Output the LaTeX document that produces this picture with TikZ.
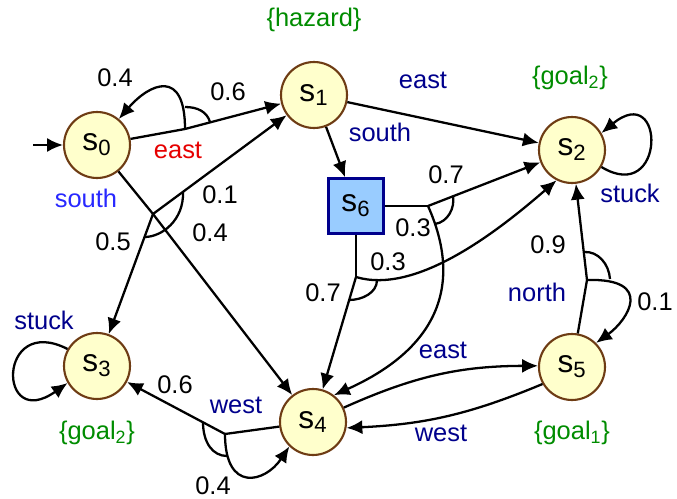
\documentclass[tikz,border=0pt]{standalone}
\usepackage{fontspec}
\setmainfont{Liberation Sans}
\usetikzlibrary{arrows.meta}

\definecolor{stateFill}{RGB}{255,255,204}
\definecolor{stateBorder}{RGB}{110,60,20}
\definecolor{hazardFill}{RGB}{153,204,255}
\definecolor{hazardBorder}{RGB}{0,0,140}
\definecolor{actColor}{RGB}{0,0,140}
\definecolor{eastColor}{RGB}{230,0,0}
\definecolor{southColor}{RGB}{40,40,255}
\definecolor{propColor}{RGB}{0,140,0}

\begin{document}
\begin{tikzpicture}
[x=0.02cm,y=0.02cm,
  stateDecorate/.style={shape=circle,minimum size=1.32cm,inner sep=0pt,draw=stateBorder,fill=stateFill,line width=1.2pt,font=\fontsize{18}{20}\selectfont},%
  hazardDecorate/.style={shape=rectangle,minimum size=1.1cm,inner sep=0pt,draw=hazardBorder,fill=hazardFill,line width=1.3pt,font=\fontsize{18}{20}\selectfont},%
  lineDecorate/.style={-,line width=1.3pt},%
  arrowDecorate/.style={-{Latex[length=9pt,width=8pt]},line width=1.3pt},%
  labelDecorate/.style={font=\fontsize{14.5}{16}\selectfont,inner sep=1pt}]
\useasboundingbox (0,0) rectangle (677,498);
%% nodes or vertices
\foreach \nodename/\x/\y/\num in {s0/97/353/0, s1/314/403/1, s2/572/348/2, s3/97/132/3, s4/313/76/4, s5/572/131/5}
{
  \node (\nodename) at (\x,\y) [stateDecorate] {s\textsubscript{\num}};
}
\node (s6) at (356,292) [hazardDecorate] {s\textsubscript{6}};
%% branch points
\foreach \cname/\x/\y in {init/33/353, b0e/185/369, b0s/153/284, b6e/428/292, b6s/356/221, b5n/587/218, b4w/225/64}
{
  \coordinate (\cname) at (\x,\y);
}
%% lines into branch points
\path
\foreach \startnode/\endnode in {s0/b0e, s0/b0s, s6/b6e, s6/b6s, s5/b5n, s4/b4w}
{
  (\startnode) edge[lineDecorate] (\endnode)
};
%% straight arrows
\path
\foreach \startnode/\endnode in {init/s0, b0e/s1, b0s/s1, b0s/s3, b0s/s4, s1/s2, s1/s6, b6e/s2, b6s/s4, b5n/s2, b4w/s3}
{
  (\startnode) edge[arrowDecorate] (\endnode)
};
%% curved arrows and loops
\draw[arrowDecorate] (b0e) .. controls (185,430) and (150,415) .. (s0.50);
\draw[arrowDecorate] (b6e) .. controls (462,216) and (441,151) .. (s4.52);
\draw[arrowDecorate] (b6s) .. controls (416,203) and (497,266) .. (s2.243);
\draw[arrowDecorate] (b5n) .. controls (655,220) and (628,178) .. (s5.45);
\draw[arrowDecorate] (b4w) .. controls (225,5) and (265,15) .. (s4.226);
\draw[arrowDecorate] (s4.25) to[bend left=12] (s5.178);
\draw[arrowDecorate] (s5.210) to[bend left=10] (s4.-10);
\draw[arrowDecorate] (s2.-30) .. controls (666,292) and (666,418) .. (s2.30);
\draw[arrowDecorate] (s3.150) .. controls (-3,185) and (-3,65) .. (s3.210);
%% arcs joining the outcomes of one action
\draw[lineDecorate] (185,391) .. controls (198,391) and (207,386) .. (210,376);
\draw[lineDecorate] (183,306) .. controls (184,278) and (162,261) .. (144.5,261);
\draw[lineDecorate] (453,302) .. controls (455,290) and (448,276) .. (435,274);
\draw[lineDecorate] (377,218) .. controls (377,205) and (362,198) .. (349,198);
\draw[lineDecorate] (584,246) .. controls (598,247) and (609,234) .. (610,219);
\draw[lineDecorate] (203,76) .. controls (203,55) and (213,42) .. (227,42);
%% probabilities
\foreach \lname/\x/\y/\txt in {pa/115/420/0.4, pb/228/406/0.6, pc/220/303/0.1, pd/113/256/0.5, pe/210/265/0.4, pf/446/323/0.7, pg/413/270/0.3, ph/388/236/0.3, pi/323/205/0.7, pj/548/253/0.9, pk/655/196/0.1, pl/175/113/0.6, pm/213/12/0.4}
{
  \node (\lname) at (\x,\y) [labelDecorate] {\txt};
}
%% actions
\foreach \lname/\x/\y/\txt in {aa/423/418/east, ab/380/366/south, ac/630/305/stuck, ad/537/206/north, ae/44/178/stuck, af/443/148/east, ag/441/65/west, ah/236/93/west}
{
  \node (\lname) at (\x,\y) [labelDecorate,text=actColor] {\txt};
}
\node (ai) at (178,348) [labelDecorate,text=eastColor] {east};
\node (aj) at (86,300) [labelDecorate,text=southColor] {south};
%% labels of states
\foreach \lname/\x/\y/\txt in {hz/314/478/\{hazard\}, ga/570/420/\{goal\textsubscript{2}\}, gb/97/65/\{goal\textsubscript{2}\}, gc/572/65/\{goal\textsubscript{1}\}}
{
  \node (\lname) at (\x,\y) [labelDecorate,text=propColor] {\txt};
}
\end{tikzpicture}
\end{document}
